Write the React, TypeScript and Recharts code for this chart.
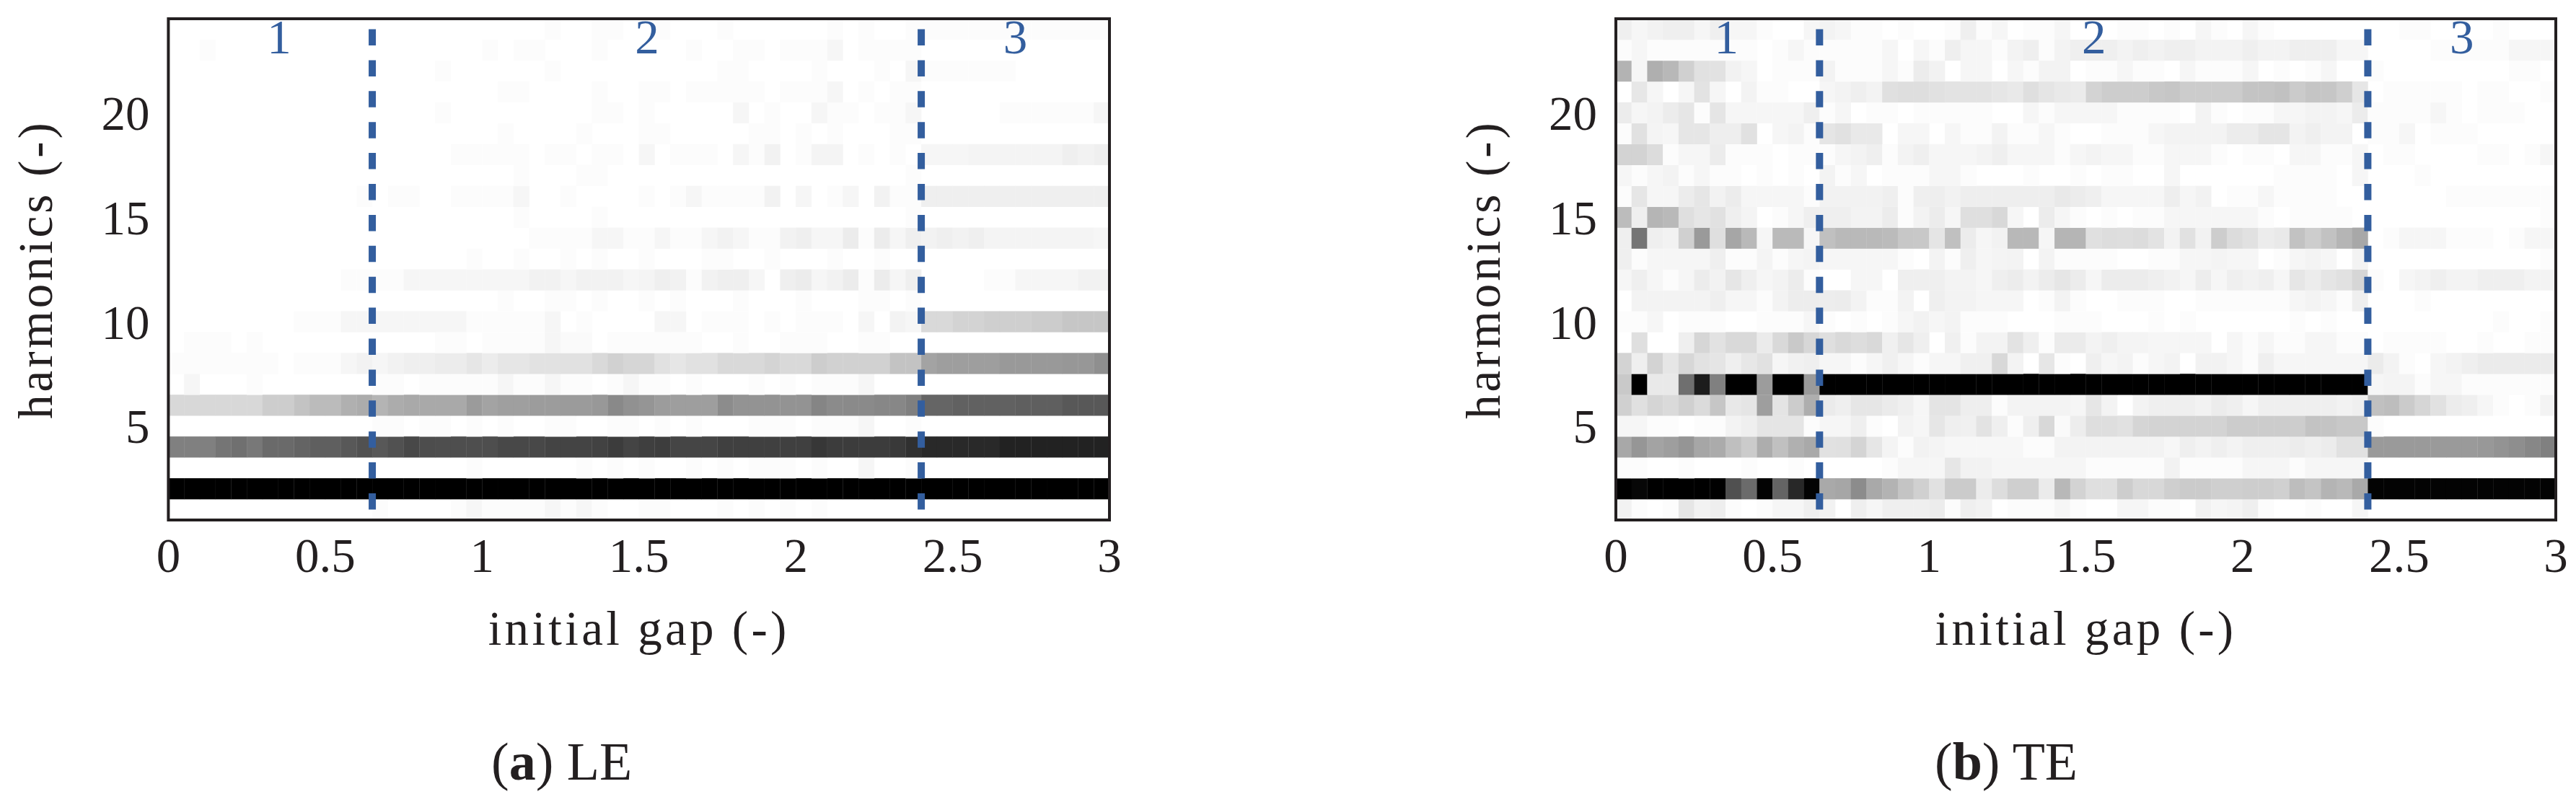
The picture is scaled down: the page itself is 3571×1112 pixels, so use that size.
import React from 'react';
import { ScatterChart, Scatter, XAxis, YAxis, ReferenceLine, ReferenceArea, ReferenceDot } from 'recharts';

// Ink level (0 white .. 255 black) per harmonic row, 60 initial-gap columns. Panel (a) LE
const a01 = [0,0,0,0,0,0,0,0,0,0, 0,0,0,3,0,0,0,0,3,9, 3,3,3,3,9,3,9,3,0,0, 3,3,0,0,0,3,0,3,0,3, 0,3,0,0,0,0,0,0,0,0, 0,0,0,0,0,0,0,0,0,0];
const a02 = [255,255,255,255,255,255,255,255,255,255, 255,255,255,255,255,255,255,255,255,255, 255,255,255,255,255,255,255,255,255,255, 255,255,255,255,255,255,255,255,255,255, 255,255,255,255,255,255,255,255,255,255, 255,255,255,255,255,255,255,255,255,255];
const a03 = [0,0,0,0,0,0,0,0,0,0, 0,0,0,0,0,0,0,0,0,3, 0,0,0,0,0,0,3,0,3,0, 3,0,0,3,0,3,0,3,3,3, 0,3,0,0,9,0,0,3,0,0, 0,0,0,0,0,0,0,0,0,0];
const a04 = [127,127,127,138,143,135,149,149,155,160, 160,167,174,167,174,183,178,177,177,177, 177,183,183,183,187,187,187,189,195,187, 192,194,186,186,186,191,191,191,191,191, 191,200,195,195,195,195,198,207,214,214, 214,214,214,221,221,221,221,221,221,221];
const a05 = [0,0,0,0,0,0,0,0,0,0, 0,0,0,3,3,0,3,3,0,3, 0,3,0,0,3,3,0,0,3,3, 0,3,0,3,0,0,0,3,3,3, 0,3,3,3,9,0,0,3,0,0, 0,0,0,0,0,0,0,0,0,0];
const a06 = [39,39,39,39,39,39,50,50,60,68, 68,79,83,75,83,86,86,86,86,100, 92,96,96,99,99,100,100,103,118,110, 106,99,97,97,97,115,108,108,108,108, 108,122,116,117,117,120,120,128,154,154, 158,158,158,158,160,160,160,167,167,167];
const a07 = [0,9,0,0,0,3,0,0,0,0, 0,0,0,3,3,0,3,3,3,3, 3,9,3,3,9,3,3,0,3,9, 3,3,0,3,0,0,0,3,0,3, 0,3,3,3,9,0,0,0,0,0, 0,0,0,0,0,0,0,0,0,0];
const a08 = [3,3,3,3,3,3,3,0,3,3, 3,9,13,9,13,16,16,19,19,25, 19,25,25,29,29,30,30,38,46,41, 41,30,25,30,30,38,38,38,43,38, 38,50,46,46,46,46,60,60,92,97, 97,97,97,102,102,102,102,104,104,112];
const a09 = [0,3,3,3,0,3,0,0,0,0, 0,0,0,0,0,0,0,3,3,0, 3,3,3,3,9,5,5,0,3,3, 3,3,3,3,0,0,3,0,0,3, 3,3,0,0,3,3,0,0,0,0, 0,0,0,0,0,0,0,0,0,0];
const a10 = [0,0,0,0,0,0,0,0,3,3, 3,9,9,9,9,9,9,9,9,3, 3,3,3,3,9,0,3,0,0,0, 0,9,9,0,3,3,3,0,3,0, 3,3,3,0,9,0,12,9,38,38, 44,44,48,48,48,51,51,57,57,57];
const a11 = [0,0,0,0,0,0,0,0,0,0, 0,0,0,0,0,0,0,0,0,0, 0,3,0,0,3,3,0,3,0,0, 3,0,3,0,0,0,3,0,0,0, 3,0,0,0,3,3,0,3,0,0, 0,0,0,0,0,0,0,0,0,0];
const a12 = [0,0,0,0,0,0,0,0,0,0, 0,3,3,3,3,9,9,9,9,9, 9,9,9,13,13,9,13,13,13,9, 11,16,13,3,13,16,16,9,0,16, 19,9,13,19,3,19,9,16,0,0, 0,0,3,3,9,9,9,9,13,13];
const a13 = [0,0,0,0,0,0,0,0,0,0, 0,0,0,0,0,0,0,0,0,3, 0,0,3,0,0,3,0,3,0,0, 3,0,0,0,3,3,0,0,3,0, 0,0,3,0,0,3,0,0,0,0, 0,0,0,0,0,0,0,0,0,0];
const a14 = [0,0,0,0,0,0,0,0,0,0, 0,0,0,0,0,0,0,0,0,0, 0,0,0,3,3,3,3,9,9,3, 3,9,3,3,9,13,9,3,3,13, 16,9,9,19,3,19,9,16,13,16, 13,16,11,11,11,11,11,11,11,9];
const a15 = [0,0,0,0,0,0,0,0,0,0, 0,0,0,0,0,0,0,0,0,0, 0,0,3,0,0,0,0,3,0,0, 0,0,0,0,0,0,0,0,0,0, 0,0,0,0,0,0,0,3,0,0, 0,0,0,0,0,0,0,0,0,0];
const a16 = [0,0,0,0,0,0,0,0,0,0, 0,0,3,0,3,3,0,0,3,3, 3,3,9,0,0,3,0,0,0,0, 3,0,3,9,3,3,3,3,13,0, 9,0,3,9,0,13,3,3,16,16, 16,16,16,16,16,16,16,16,16,16];
const a17 = [0,0,0,0,0,0,0,0,0,0, 0,0,0,0,0,0,0,0,0,0, 0,0,3,0,0,0,3,3,0,0, 0,0,0,0,0,0,0,0,0,0, 0,0,0,0,0,0,0,3,0,0, 0,0,0,0,0,0,0,0,0,0];
const a18 = [0,0,0,0,0,0,0,0,0,0, 0,0,0,0,0,0,0,0,3,3, 3,3,3,0,3,3,0,3,3,0, 9,0,3,3,3,0,9,3,13,0, 3,11,11,0,3,0,3,0,9,9, 9,11,11,11,11,11,11,16,13,16];
const a19 = [0,0,0,0,0,0,0,0,0,0, 0,0,0,0,0,0,0,0,0,0, 0,3,0,0,0,0,3,0,0,0, 3,3,0,0,0,0,0,3,3,0, 3,0,3,0,0,0,3,3,0,0, 0,0,0,0,0,0,0,0,0,0];
const a20 = [0,0,0,0,0,0,0,0,0,0, 0,0,0,0,0,0,0,3,0,0, 0,0,0,0,0,0,0,3,3,0, 3,0,0,0,0,0,9,0,3,0, 0,9,3,3,0,3,3,9,0,0, 0,0,0,3,3,3,3,3,3,9];
const a21 = [0,0,0,0,0,0,0,0,0,0, 0,0,0,0,0,0,0,0,0,0, 0,3,3,0,0,0,0,3,0,0, 3,3,0,3,3,3,3,3,0,3, 3,3,9,0,3,0,3,3,0,0, 0,0,0,0,0,0,0,0,0,0];
const a22 = [0,0,0,0,0,0,0,0,0,0, 0,0,0,0,0,0,0,3,0,0, 0,0,0,0,3,0,0,0,0,0, 0,0,0,0,0,3,3,0,0,0, 0,3,0,0,0,3,0,9,3,3, 3,3,3,3,0,0,0,0,0,0];
const a23 = [0,0,3,0,0,0,0,0,0,0, 0,0,0,0,0,0,0,0,0,0, 3,0,3,3,0,0,0,3,0,0, 0,0,0,3,0,0,3,3,0,3, 3,3,9,0,3,3,3,3,0,0, 0,0,0,0,0,0,0,0,0,0];
const a24 = [0,0,0,0,0,0,0,0,0,0, 0,0,0,0,0,0,0,0,0,0, 0,0,0,0,3,0,0,3,3,0, 0,3,0,0,0,3,0,0,0,0, 0,0,3,0,3,0,0,3,3,3, 3,3,3,3,3,3,3,3,3,3];

// Panel (b) TE
const b01 = [13,3,0,3,25,13,17,3,0,3, 9,9,16,13,0,16,9,16,16,16, 19,3,16,13,0,3,3,3,9,3, 0,0,9,9,3,3,0,13,9,11, 16,3,0,0,3,0,0,9,0,0, 0,0,0,0,0,0,0,0,0,0];
const b02 = [255,248,255,255,255,255,255,175,148,252, 155,215,252,86,89,115,86,76,59,47, 30,52,52,19,34,48,48,20,71,44, 32,32,50,39,39,48,52,52,48,48, 50,50,47,66,59,75,70,86,252,252, 252,252,252,252,252,252,252,252,252,252];
const b03 = [3,3,0,0,3,0,0,0,3,0, 0,3,0,0,0,0,0,3,9,9, 9,25,13,13,9,9,9,9,9,9, 3,3,3,3,3,13,3,3,3,3, 9,9,9,3,9,9,9,9,0,0, 0,0,0,0,0,0,0,0,0,0];
const b04 = [87,105,92,97,106,89,84,64,52,82, 63,79,86,30,31,43,25,11,3,13, 11,8,8,8,8,8,3,3,12,12, 12,12,12,12,12,8,16,12,16,12, 16,16,16,19,16,19,30,30,101,101, 101,101,101,101,101,103,108,113,120,127];
const b05 = [9,9,3,3,0,3,3,12,16,26, 26,26,3,9,9,16,3,0,12,9, 25,16,15,28,16,3,16,39,5,18, 33,33,30,42,44,44,44,44,44,51, 51,51,51,50,60,59,55,55,3,0, 0,0,0,0,0,0,0,0,0,0];
const b06 = [47,31,42,37,47,36,57,23,26,97, 27,51,81,20,16,25,25,20,16,9, 27,27,17,17,3,12,12,12,12,9, 25,12,0,12,16,16,16,13,19,16, 9,16,16,16,16,16,13,16,63,66, 52,41,30,19,16,9,3,0,3,12];
const b07 = [54,255,22,22,144,227,127,255,255,99, 255,255,101,255,255,255,255,255,255,255, 255,255,255,255,255,255,255,255,255,255, 255,255,255,255,255,255,255,255,255,255, 255,255,255,255,255,255,255,255,9,11, 11,3,9,9,3,3,3,3,3,3];
const b08 = [44,16,44,25,40,29,26,16,24,30, 9,14,16,9,9,3,9,15,9,3, 9,9,15,15,39,12,0,25,3,0, 16,9,12,3,9,12,0,13,13,9, 3,16,9,9,9,9,9,9,20,12, 3,0,9,12,16,20,20,20,20,20];
const b09 = [0,32,0,0,16,41,29,38,38,20, 38,54,40,32,38,34,38,15,25,16, 0,15,3,12,12,28,16,3,20,20, 12,16,11,11,9,9,9,9,0,9, 3,9,3,3,9,9,3,3,0,3, 3,3,3,0,0,3,0,0,3,3];
const b10 = [3,3,9,0,3,3,3,0,0,3, 3,3,9,3,0,3,0,3,9,13, 9,12,3,3,3,0,0,0,3,3, 3,0,0,0,3,0,3,0,0,0, 0,0,0,3,0,3,0,0,0,0, 0,0,0,0,0,0,3,0,0,3];
const b11 = [0,12,12,12,12,12,16,9,9,3, 12,18,18,18,19,12,3,3,12,0, 16,12,12,9,9,9,0,3,12,3, 0,0,3,3,3,0,0,3,3,3, 3,3,3,9,12,9,3,16,0,0, 0,3,0,0,0,0,0,0,0,0];
const b12 = [9,16,9,3,9,19,13,25,16,9, 12,19,3,0,0,9,9,0,16,16, 16,12,12,9,16,19,12,19,25,19, 9,19,19,19,16,13,9,18,9,16, 13,16,9,25,19,26,30,41,3,0, 9,12,16,12,12,16,16,16,12,12];
const b13 = [16,3,9,9,9,9,16,3,3,11, 3,9,11,9,9,9,9,9,3,0, 12,3,16,9,11,12,0,12,3,3, 3,3,0,0,3,3,9,9,11,9, 9,0,3,9,12,9,0,12,0,0, 0,0,0,0,0,0,0,0,0,3];
const b14 = [16,138,16,13,47,101,32,89,70,9, 69,69,9,63,70,70,70,68,56,55, 26,63,19,9,13,71,71,9,74,74, 31,34,33,35,28,12,30,13,50,35, 30,19,22,61,50,61,74,87,0,3, 9,9,9,3,3,3,0,3,9,9];
const b15 = [67,16,74,70,32,25,30,16,11,0, 3,9,16,16,16,12,12,19,3,12, 19,9,32,32,39,9,0,19,9,3, 0,3,0,3,3,9,9,9,9,9, 9,3,0,3,3,3,3,0,0,0, 0,0,0,0,0,0,0,0,0,3];
const b16 = [3,25,9,9,19,25,13,19,9,9, 9,9,3,13,13,13,13,16,3,16, 17,13,17,17,17,17,17,17,22,19, 16,9,9,9,9,17,9,13,0,3, 3,9,3,3,3,3,0,0,0,0, 0,0,0,3,3,3,3,3,3,3];
const b17 = [9,3,9,12,3,9,3,3,0,3, 0,3,0,12,3,9,0,3,3,3, 9,9,3,0,0,0,3,0,0,3, 0,3,3,0,0,9,0,0,0,0, 0,0,3,3,3,3,0,9,0,0, 0,3,0,0,0,0,0,0,0,0];
const b18 = [44,44,35,3,9,9,19,3,3,3, 0,3,3,3,9,12,16,3,12,16, 9,9,9,12,16,9,9,9,3,9, 12,9,9,3,3,9,9,9,3,0, 3,3,0,9,9,3,3,9,0,3, 3,0,0,0,0,3,3,0,3,9];
const b19 = [3,30,11,9,25,25,17,17,30,0, 9,12,3,26,30,22,22,0,9,9, 0,9,3,3,12,3,3,9,3,0, 0,3,3,3,9,12,12,12,12,19, 19,26,26,12,16,12,12,0,3,3, 9,0,3,3,3,0,0,0,0,0];
const b20 = [19,9,12,19,25,3,26,9,9,9, 9,9,16,3,9,0,3,3,0,3, 3,3,3,3,0,0,9,3,9,9, 9,9,3,3,3,3,0,12,3,0, 3,3,9,9,12,12,9,19,3,3, 3,3,9,3,0,3,3,3,0,0];
const b21 = [0,24,9,0,9,28,9,0,12,3, 3,0,0,9,12,16,12,31,33,33, 30,28,28,28,25,22,32,26,22,20, 44,50,50,50,55,57,51,51,51,51, 59,59,62,52,58,57,48,25,0,3, 3,3,3,3,0,3,3,0,0,3];
const b22 = [76,9,80,71,47,30,29,13,9,0, 3,3,3,12,3,3,3,9,3,19, 13,0,9,9,0,9,3,12,12,0, 3,3,9,3,3,0,9,3,3,3, 9,0,3,0,3,9,0,0,3,0, 0,0,0,0,0,0,0,3,3,0];
const b23 = [3,9,3,3,3,3,3,3,3,0, 3,9,3,3,3,3,3,9,0,9, 3,16,9,9,3,12,16,3,12,16, 16,16,12,16,13,16,16,12,12,12, 16,12,12,16,16,16,9,9,0,0, 0,0,3,3,3,3,3,9,9,9];
const b24 = [16,9,13,16,16,9,16,9,9,3, 0,0,9,12,9,3,3,0,3,0, 0,3,16,3,9,0,3,3,9,0, 0,0,3,3,0,3,0,9,3,0, 9,3,0,0,0,0,0,0,0,0, 3,3,0,0,0,0,3,0,0,0];

const rowsLE = [a01,a02,a03,a04,a05,a06,a07,a08,a09,a10,a11,a12,a13,a14,a15,a16,a17,a18,a19,a20,a21,a22,a23,a24];
const rowsTE = [b01,b02,b03,b04,b05,b06,b07,b08,b09,b10,b11,b12,b13,b14,b15,b16,b17,b18,b19,b20,b21,b22,b23,b24];

const xTicks = [0, 0.5, 1, 1.5, 2, 2.5, 3];
const yTicks = [5, 10, 15, 20];
const regionBounds = [0.65, 2.4];
const regionLabels = [
  { text: '1', gap: 0.353 },
  { text: '2', gap: 1.526 },
  { text: '3', gap: 2.7 },
];
const columnStep = 0.05;

const SERIF = '"Liberation Serif", serif';
const INK = '#231f20';
const BLUE = '#335e9e';
const FONT = 67;
const TOP_LAYER = 1500;

const CHART_W = 1780;
const CHART_H = 1112;

function Panel({ rows, left, plotLeft, plotWidth }) {
  const cellW = plotWidth / 60;
  const cellH = 28.96;
  const data = [];
  rows.forEach((vals, r) => {
    vals.forEach((ink, c) => {
      if (ink > 0) data.push({ gap: (c + 0.5) * columnStep, harmonic: r + 1, ink });
    });
  });
  const Cell = (p) => {
    const g = 255 - p.payload.ink;
    return (
      <rect
        x={p.cx - cellW / 2}
        y={p.cy - cellH / 2}
        width={cellW + 0.3}
        height={cellH + 0.3}
        fill={`rgb(${g},${g},${g})`}
      />
    );
  };
  const yAxisW = 120;
  const xAxisH = 100;
  return (
    <div style={{ position: 'absolute', left, top: 0, width: CHART_W, height: CHART_H }}>
      <ScatterChart
        width={CHART_W}
        height={CHART_H}
        margin={{
          left: plotLeft - yAxisW,
          right: CHART_W - plotLeft - plotWidth,
          top: 26,
          bottom: CHART_H - 721 - xAxisH,
        }}
      >
        <XAxis
          type="number"
          dataKey="gap"
          domain={[0, 3]}
          ticks={xTicks}
          height={xAxisH}
          axisLine={false}
          tickLine={false}
          tickSize={0}
          tickMargin={24}
          interval={0}
          tick={{ fontSize: FONT, fontFamily: SERIF, fill: INK }}
          label={{
            value: 'initial gap (-)',
            position: 'insideBottom',
            dy: 78,
            style: { fontSize: FONT, fontFamily: SERIF, fill: INK, letterSpacing: 4.3 },
          }}
        />
        <YAxis
          type="number"
          dataKey="harmonic"
          domain={[0.5, 24.5]}
          ticks={yTicks}
          width={yAxisW}
          axisLine={false}
          tickLine={false}
          tickSize={0}
          tickMargin={26}
          interval={0}
          tick={{ fontSize: FONT, fontFamily: SERIF, fill: INK }}
          label={{
            value: 'harmonics (-)',
            angle: -90,
            position: 'center',
            dx: -125,
            dy: 0,
            style: { fontSize: FONT, fontFamily: SERIF, fill: INK, letterSpacing: 4, textAnchor: 'middle' },
          }}
        />
        <Scatter data={data} shape={Cell} isAnimationActive={false} />
        {regionBounds.map((g) => (
          <ReferenceLine
            key={g}
            segment={[{ x: g, y: 24 }, { x: g, y: 1 }]}
            stroke={BLUE}
            strokeWidth={10}
            strokeDasharray="22.5 20.4"
            zIndex={TOP_LAYER}
          />
        ))}
        {regionLabels.map((l) => (
          <ReferenceDot
            key={l.text}
            x={l.gap}
            y={23.68}
            r={0}
            fill="none"
            stroke="none"
            zIndex={TOP_LAYER}
            label={{
              value: l.text,
              position: 'center',
              style: { fontSize: FONT, fontFamily: SERIF, fill: BLUE },
            }}
          />
        ))}
        <ReferenceArea
          x1={0}
          x2={3}
          y1={0.5}
          y2={24.5}
          fill="none"
          fillOpacity={0}
          stroke={INK}
          strokeWidth={4}
          zIndex={TOP_LAYER}
        />
      </ScatterChart>
    </div>
  );
}

function Caption({ left, letter, name }) {
  return (
    <div
      style={{
        position: 'absolute',
        left,
        top: 1079 - 66,
        lineHeight: '86px',
        fontFamily: SERIF,
        fontSize: 74,
        color: INK,
        whiteSpace: 'pre',
      }}
    >
      (<b>{letter}</b>) {name}
    </div>
  );
}

export default function App() {
  return (
    <div style={{ position: 'absolute', left: 0, top: 0, width: 3571, height: 1112, background: '#fff', overflow: 'hidden' }}>
      <Panel rows={rowsLE} left={0} plotLeft={233.4} plotWidth={1304.6} />
      <Panel rows={rowsTE} left={1790} plotLeft={450} plotWidth={1303} />
      <Caption left={681} letter="a" name="LE" />
      <Caption left={2682} letter="b" name="TE" />
    </div>
  );
}
